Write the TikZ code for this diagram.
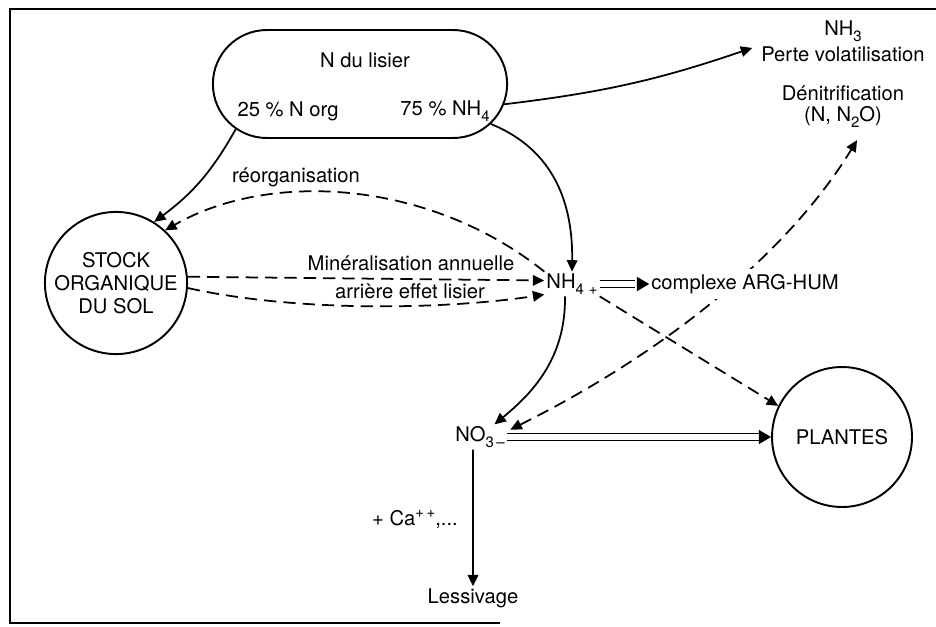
\documentclass[tikz,border=0pt]{standalone}
\usepackage{fontspec}
\setmainfont{TeX Gyre Heros}
\usetikzlibrary{arrows.meta,shapes.misc,backgrounds}

\newcommand\lsub[1]{\raisebox{-0.55ex}{\fontsize{8.5}{9}\selectfont #1}}
\newcommand\lsup[1]{\raisebox{0.75ex}{\fontsize{8.5}{9}\selectfont #1}}

\tikzset{
  txt/.style={inner sep=1pt, font=\fontsize{11.5}{13}\selectfont},
  pool/.style={circle, draw, line width=1.1pt, minimum size=2.84cm, align=center, txt},
  flow/.style={line width=1pt, -{Triangle[length=6.5pt,width=6pt]}},
  dflow/.style={flow, dash pattern=on 7pt off 4pt},
  dbl/.style={double, double distance=3pt, line width=0.8pt, shorten >=6pt},
  dbltip/.style={line width=0.8pt, -{Triangle[length=7pt,width=8pt]}},
}

\begin{document}
\begin{tikzpicture}[x=0.02cm, y=-0.02cm]
  \useasboundingbox (0,0) rectangle (936,626);
  % cadre
  \draw[line width=0.9pt] (500,623) -- (10,623) -- (10,9) -- (936,9);

  % lisier
  \node[rounded rectangle, draw, line width=1.1pt, minimum width=6.12cm, minimum height=2.16cm] (lisier) at (360,84) {};
  \node[txt] (ntot) at (365,60) {N du lisier};
  \node[txt] (norg) at (288,111) {25 \% N org};
  \node[txt] (nam) at (445,111) {75 \% NH\lsub{4}};

  % compartiments
  \node[pool] (stock) at (116,283) {STOCK\\ORGANIQUE\\DU SOL};
  \node[pool, minimum size=2.8cm] (plantes) at (842,437) {PLANTES};

  \node[txt] (nh) at (572,284) {NH\lsub{4\,\,+}};
  \node[txt, fill=white, inner sep=3pt] (cx) at (745,284) {complexe ARG-HUM};
  \node[txt] (no3) at (480,437) {NO\lsub{3\,–}};
  \node[txt] (ca) at (415,519) {+ Ca\lsup{+\,+},...};
  \node[txt] (less) at (473,598) {Lessivage};

  \node[txt] (nh3) at (843,31) {NH\lsub{3}};
  \node[txt] (perte) at (843,54) {Perte volatilisation};
  \node[txt] (deni) at (843,93) {Dénitrification};
  \node[txt] (n2o) at (843,117) {(N, N\lsub{2}O)};

  \node[txt] (reorg) at (296,177) {réorganisation};
  \node[txt] (minan) at (411,263) {Minéralisation annuelle};
  \node[txt] (arr) at (410,291) {arrière effet lisier};

  % flux
  \draw[flow] (lisier.200) to[bend left=12] (stock.58);
  \draw[flow] (lisier.-8) to[bend right=6] ([xshift=-4pt,yshift=-2pt]perte.north west);
  \draw[flow] (lisier.-17) .. controls (555,150) and (573,205) .. (nh.north);
  \draw[dflow] (nh.north west) .. controls (430,180) and (270,170) .. (stock.47);
  \draw[dflow] (stock.5) -- ([yshift=2pt]nh.west);
  \draw[dflow] (stock.-4) .. controls (300,313) and (450,309) .. ([yshift=-6pt]nh.west);
  \draw[flow] ([xshift=-4pt]nh.south) .. controls (566,360) and (530,395) .. ([xshift=-7pt]no3.north east);
  \draw[dflow] (nh.south east) -- (plantes.154);
  \draw[dbl] (nh.east) -- (cx.west);
  \draw[dbltip] ([xshift=-5pt]cx.west) -- ([xshift=2pt]cx.west);
  \draw[dbl] (no3.east) -- (plantes.west);
  \draw[dbltip] ([xshift=-7pt]plantes.west) -- (plantes.west);
  \draw[flow] ([xshift=-4pt]no3.south) -- (less.north);
  \begin{scope}[on background layer]
    \draw[dflow, {Triangle[length=6.5pt,width=6pt]}-{Triangle[length=6.5pt,width=6pt]}]
      ([xshift=2pt,yshift=-3pt]no3.north east) .. controls (670,350) and (790,250) .. ([xshift=8pt,yshift=-6pt]n2o.south);
  \end{scope}
\end{tikzpicture}
\end{document}
